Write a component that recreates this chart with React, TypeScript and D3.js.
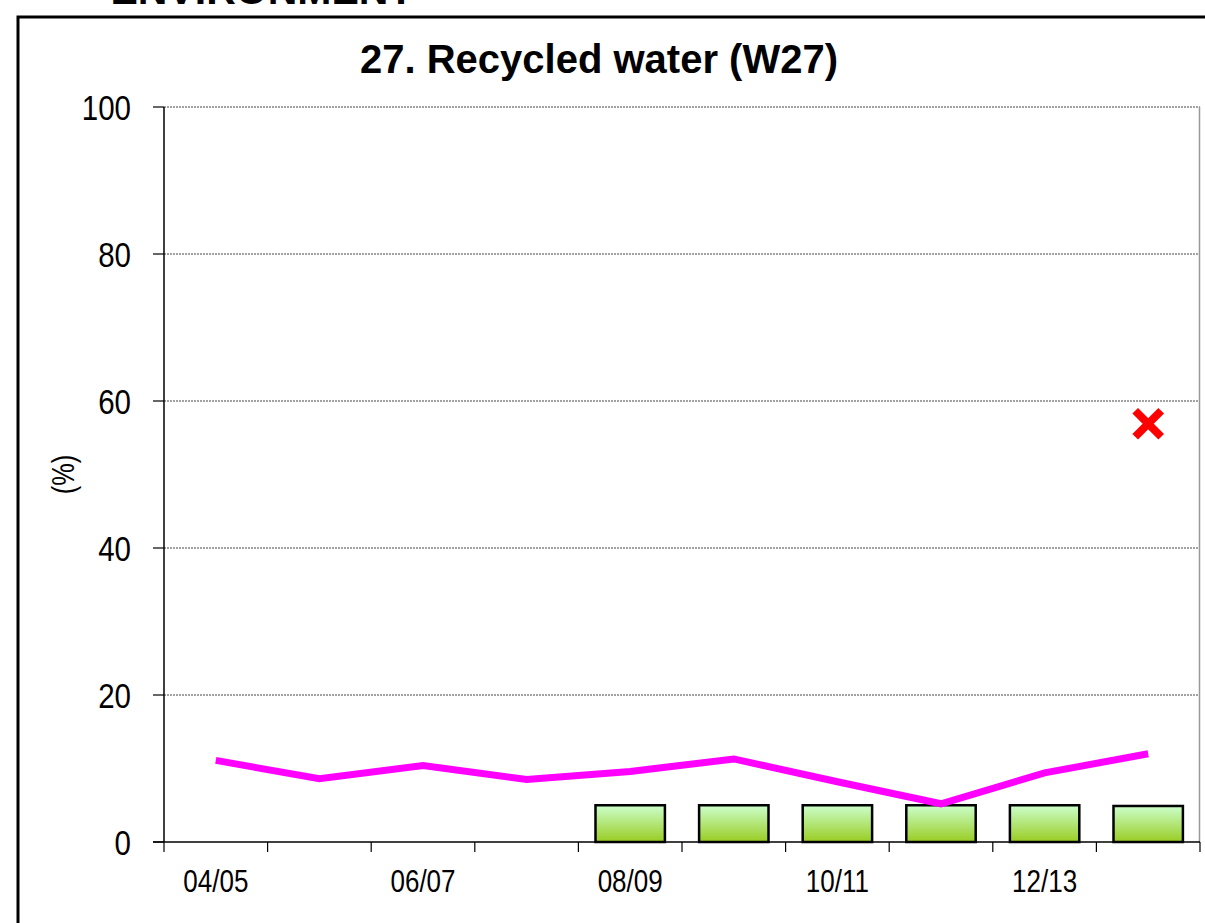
import React from "react";
import * as d3 from "d3";

const categories = ["04/05", "05/06", "06/07", "07/08", "08/09", "09/10", "10/11", "11/12", "12/13", "13/14"];
const lineValues = [11.1, 8.6, 10.4, 8.5, 9.6, 11.3, 8.2, 5.2, 9.4, 12.0];
const barCategories = ["08/09", "09/10", "10/11", "11/12", "12/13", "13/14"];
const barValues = [5.0, 5.0, 5.0, 5.0, 5.0, 4.9];
const markerCategory = "13/14";
const markerValue = 56.9;
const yTicks = [0, 20, 40, 60, 80, 100];
const xLabels = ["04/05", "06/07", "08/09", "10/11", "12/13"];
const title = "27. Recycled water (W27)";
const yTitle = "(%)";
const headerText = "ENVIRONMENT";

const W = 1205;
const H = 923;
const left = 164;
const right = 1200;
const top = 107;
const bottom = 842;
const sans = "'Liberation Sans', Arial, sans-serif";
const NARROW = 0.82;

export default function App() {
  const x = d3.scaleBand<string>().domain(categories).range([left, right]).paddingInner(0).paddingOuter(0);
  const y = d3.scaleLinear().domain([0, 100]).range([bottom, top]);
  const bw = x.bandwidth();
  const cx = (c: string) => (x(c) as number) + bw / 2;

  const line = d3
    .line<number>()
    .x((_, i) => cx(categories[i]))
    .y((v) => y(v));

  const barW = bw * 0.67;
  const mx = cx(markerCategory);
  const my = y(markerValue);
  const ms = 13;

  const boundaries = categories.map((c) => x(c) as number).concat([right]);

  return (
    <div style={{ position: "absolute", left: 0, top: 0 }}>
      <svg width={W} height={H} style={{ display: "block" }}>
        <defs>
          <linearGradient id="barGrad" x1="0" y1="0" x2="0" y2="1">
            <stop offset="0%" stopColor="#ccffcc" />
            <stop offset="100%" stopColor="#99cc22" />
          </linearGradient>
        </defs>
        <rect x={0} y={0} width={W} height={H} fill="#fff" />
        <text x={262} y={4} textAnchor="middle" fontFamily={sans} fontWeight="bold" fontSize={41} fill="#000">
          {headerText}
        </text>
        <rect x={18} y={17} width={W + 20} height={H + 20} fill="none" stroke="#000" strokeWidth={3} />

        <text x={599} y={73} textAnchor="middle" fontFamily={sans} fontWeight="bold" fontSize={40} fill="#000">
          {title}
        </text>

        {/* gridlines */}
        {yTicks.filter((t) => t > 0).map((t) => (
          <line key={"g" + t} x1={left} x2={right} y1={y(t)} y2={y(t)} stroke="#444" strokeWidth={1} strokeDasharray="2,1" />
        ))}
        {/* right border */}
        <line x1={right - 0.5} x2={right - 0.5} y1={top} y2={bottom} stroke="#999" strokeWidth={1.5} />

        {/* y axis */}
        <line x1={left} x2={left} y1={top} y2={bottom} stroke="#000" strokeWidth={1.5} />
        {yTicks.map((t) => (
          <g key={"yt" + t}>
            <line x1={left - 11} x2={left} y1={y(t)} y2={y(t)} stroke="#000" strokeWidth={1.2} />
            <text
              transform={`translate(131, ${y(t) + 13}) scale(${NARROW}, 1)`}
              textAnchor="end"
              fontFamily={sans}
              fontSize={36}
              fill="#000"
            >
              {t}
            </text>
          </g>
        ))}
        <text
          transform={`translate(74, ${(top + bottom) / 2}) rotate(-90) scale(${NARROW}, 1)`}
          textAnchor="middle"
          fontFamily={sans}
          fontSize={31}
          fill="#000"
        >
          {yTitle}
        </text>

        {/* bars */}
        {barCategories.map((c, i) => (
          <rect
            key={"b" + c}
            x={cx(c) - barW / 2}
            y={y(barValues[i])}
            width={barW}
            height={bottom - y(barValues[i])}
            fill="url(#barGrad)"
            stroke="#000"
            strokeWidth={2.5}
          />
        ))}

        {/* x axis */}
        <line x1={left - 11} x2={right} y1={bottom} y2={bottom} stroke="#000" strokeWidth={1.5} />
        {boundaries.map((b, i) => (
          <line key={"xt" + i} x1={b} x2={b} y1={bottom} y2={bottom + 10} stroke="#000" strokeWidth={1.2} />
        ))}
        {xLabels.map((c) => (
          <text
            key={"xl" + c}
            transform={`translate(${cx(c)}, 892) scale(0.84, 1)`}
            textAnchor="middle"
            fontFamily={sans}
            fontSize={31}
            fill="#000"
          >
            {c}
          </text>
        ))}

        {/* line */}
        <path d={line(lineValues) || ""} fill="none" stroke="#ff00ff" strokeWidth={7} strokeLinejoin="miter" />

        {/* marker */}
        <path
          d={`M${mx - ms},${my - ms}L${mx + ms},${my + ms}M${mx - ms},${my + ms}L${mx + ms},${my - ms}`}
          stroke="#ff0000"
          strokeWidth={8}
          fill="none"
        />
      </svg>
    </div>
  );
}
